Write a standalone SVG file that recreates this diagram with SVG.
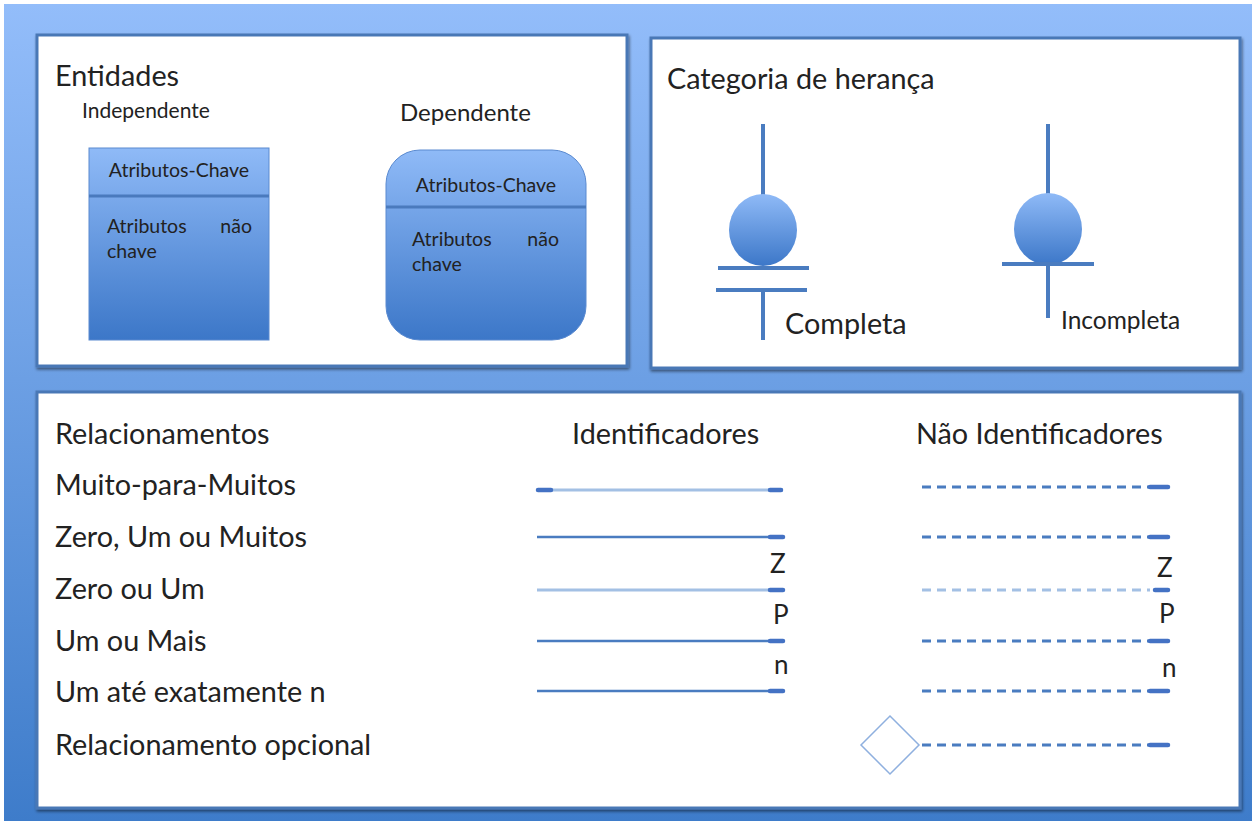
<svg xmlns="http://www.w3.org/2000/svg" width="1252" height="821" viewBox="0 0 1252 821">
<defs>
<linearGradient id="bg" x1="0" y1="0" x2="0" y2="1"><stop offset="0" stop-color="#93bdfa"/><stop offset="1" stop-color="#3e7cca"/></linearGradient>
<linearGradient id="ent" x1="0" y1="0" x2="0" y2="1"><stop offset="0" stop-color="#8fbaf7"/><stop offset="1" stop-color="#3c77c8"/></linearGradient>
<filter id="sh" x="-5%" y="-5%" width="110%" height="110%"><feGaussianBlur in="SourceAlpha" stdDeviation="1.5"/><feOffset dx="1" dy="2"/><feComponentTransfer><feFuncA type="linear" slope="0.5"/></feComponentTransfer><feMerge><feMergeNode/><feMergeNode in="SourceGraphic"/></feMerge></filter>
</defs>
<style>
text{font-family:Lato,"Liberation Sans",sans-serif;fill:#222}
.panel{fill:#fff;stroke:#4a78b6;stroke-width:3}
.big{font-size:28.8px}
.attr{font-size:19.5px}
.sym{stroke:#4a7cc0;stroke-width:4;fill:none}
.sl{stroke:#4a7cc0;stroke-width:2.5}
.lt{stroke:#a3c0e4;stroke-width:3}
.cap{stroke:#4472c4;stroke-width:4.5;stroke-linecap:round}
.ds{stroke:#4a7cc0;stroke-width:3;stroke-dasharray:9 6}
.dl{stroke:#a3c0e4;stroke-width:3;stroke-dasharray:9 6}
.mk{font-size:26px}
</style>
<rect x="0" y="0" width="1252" height="821" fill="#fff"/>
<rect x="4" y="4" width="1248" height="817" fill="url(#bg)"/>

<g id="panel-entidades">
<rect class="panel" x="37" y="35" width="590" height="331" filter="url(#sh)"/>
<text class="big" x="55" y="86">Entidades</text>
<text x="82" y="118" font-size="21px">Independente</text>
<text x="400" y="121" font-size="24px">Dependente</text>
</g>

<g id="entidade-independente">
<rect x="89" y="148" width="180" height="192" fill="url(#ent)" stroke="#5a8ad0" stroke-width="1"/>
<line x1="89" y1="196" x2="269" y2="196" stroke="#4a7abd" stroke-width="3"/>
<text class="attr" x="179" y="177" text-anchor="middle">Atributos-Chave</text>
<text class="attr" x="107" y="233">Atributos</text>
<text class="attr" x="252" y="233" text-anchor="end">não</text>
<text class="attr" x="107" y="258">chave</text>
</g>

<g id="entidade-dependente">
<rect x="386" y="150" width="200" height="190" rx="34" ry="34" fill="url(#ent)" stroke="#5a8ad0" stroke-width="1"/>
<line x1="386" y1="207" x2="586" y2="207" stroke="#4a7abd" stroke-width="3"/>
<text class="attr" x="486" y="192" text-anchor="middle">Atributos-Chave</text>
<text class="attr" x="412" y="246">Atributos</text>
<text class="attr" x="559" y="246" text-anchor="end">não</text>
<text class="attr" x="412" y="271">chave</text>
</g>

<g id="panel-categoria">
<rect class="panel" x="651" y="38" width="589" height="330" filter="url(#sh)"/>
<text class="big" x="667" y="89">Categoria de herança</text>
</g>

<g id="categoria-completa">
<line class="sym" x1="763" y1="124" x2="763" y2="196"/>
<ellipse cx="763" cy="230" rx="34" ry="36" fill="url(#ent)"/>
<line class="sym" x1="718" y1="268" x2="809" y2="268"/>
<line class="sym" x1="716" y1="290" x2="807" y2="290"/>
<line class="sym" x1="763" y1="290" x2="763" y2="340"/>
<text class="big" x="785" y="334">Completa</text>
</g>

<g id="categoria-incompleta">
<line class="sym" x1="1048" y1="124" x2="1048" y2="196"/>
<ellipse cx="1048" cy="229" rx="34" ry="36" fill="url(#ent)"/>
<line class="sym" x1="1002" y1="264" x2="1094" y2="264"/>
<line class="sym" x1="1048" y1="264" x2="1048" y2="318"/>
<text x="1061" y="329" font-size="24.5px">Incompleta</text>
</g>

<g id="panel-relacionamentos">
<rect class="panel" x="37" y="392" width="1203" height="416" filter="url(#sh)"/>
<text class="big" x="55" y="444">Relacionamentos</text>
<text class="big" x="572" y="444">Identificadores</text>
<text class="big" x="916" y="444">Não Identificadores</text>
<text class="big" x="55" y="495">Muito-para-Muitos</text>
<text class="big" x="55" y="547">Zero, Um ou Muitos</text>
<text class="big" x="55" y="599">Zero ou Um</text>
<text class="big" x="55" y="651">Um ou Mais</text>
<text class="big" x="55" y="702">Um até exatamente n</text>
<text class="big" x="55" y="755">Relacionamento opcional</text>
</g>

<g id="connectors">
<line class="lt" x1="537" y1="490" x2="783" y2="490"/>
<line class="cap" x1="538" y1="490" x2="551" y2="490"/>
<line class="cap" x1="770" y1="490" x2="781" y2="490"/>
<line class="sl" x1="537" y1="537" x2="783" y2="537"/>
<line class="cap" x1="770" y1="537" x2="783" y2="537"/>
<line class="lt" x1="537" y1="590" x2="783" y2="590"/>
<line class="cap" x1="770" y1="590" x2="783" y2="590"/>
<line class="sl" x1="537" y1="641" x2="783" y2="641"/>
<line class="cap" x1="770" y1="641" x2="783" y2="641"/>
<line class="sl" x1="537" y1="691" x2="783" y2="691"/>
<line class="cap" x1="770" y1="691" x2="783" y2="691"/>

<line class="ds" x1="922" y1="487" x2="1150" y2="487"/>
<line class="cap" x1="1150" y1="487" x2="1168" y2="487"/>
<line class="ds" x1="922" y1="537" x2="1150" y2="537"/>
<line class="cap" x1="1150" y1="537" x2="1168" y2="537"/>
<line class="dl" x1="922" y1="590" x2="1150" y2="590"/>
<line class="cap" x1="1155" y1="590" x2="1168" y2="590"/>
<line class="ds" x1="922" y1="641" x2="1150" y2="641"/>
<line class="cap" x1="1150" y1="641" x2="1168" y2="641"/>
<line class="ds" x1="922" y1="691" x2="1150" y2="691"/>
<line class="cap" x1="1150" y1="691" x2="1168" y2="691"/>
<line class="ds" x1="922" y1="745" x2="1150" y2="745"/>
<line class="cap" x1="1150" y1="745" x2="1168" y2="745"/>
<polygon points="890,716 919,745 890,774 861,745" fill="#fff" stroke="#8fb0df" stroke-width="1.5"/>

<text class="mk" x="770" y="573">Z</text>
<text class="mk" x="773" y="624">P</text>
<text class="mk" x="774" y="674">n</text>
<text class="mk" x="1157" y="577">Z</text>
<text class="mk" x="1159" y="623">P</text>
<text class="mk" x="1162" y="677">n</text>
</g>
</svg>
